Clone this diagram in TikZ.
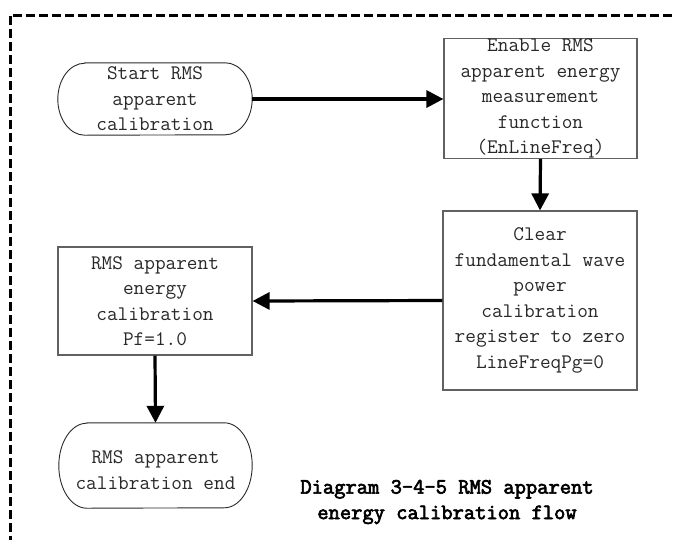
\documentclass[tikz,border=0pt]{standalone}
\usepackage{fontspec}
\setmonofont{Latin Modern Mono}
\newfontfamily\capfont[FakeBold=3]{Latin Modern Mono}
\usetikzlibrary{arrows.meta}
\definecolor{ink}{rgb}{0.16,0.16,0.16}
\definecolor{edge}{rgb}{0.38,0.38,0.38}
\tikzset{
  x=1pt, y=-1pt,
  every node/.style={font=\ttfamily\fontsize{20.7}{25.5}\selectfont, text=ink, align=center, inner sep=0pt},
  procbox/.style={draw=edge, line width=1.2pt},
  termshape/.style={draw=ink, line width=0.9pt},
  flow/.style={line width=3.2pt, -{Triangle[length=17pt, width=17pt]}},
  frame/.style={line width=3pt, dash pattern=on 9pt off 4pt}
}
\begin{document}
\begin{tikzpicture}
\useasboundingbox (0,0) rectangle (676,539);

% dashed frame (left and top sides)
\draw[frame] (10,545) -- (10,15) -- (690,15);

% process boxes
\node[procbox, minimum width=193pt, minimum height=119pt] (enable) at (540.5,98.5)
  {Enable RMS\\apparent energy\\measurement\\function\\(EnLineFreq)};
\node[procbox, minimum width=194pt, minimum height=179pt] (clear) at (540,300.5)
  {Clear\\fundamental wave\\power\\calibration\\register to zero\\LineFreqPg=0};
\node[procbox, minimum width=194pt, minimum height=108pt] (calib) at (155,301)
  {RMS apparent\\energy\\calibration\\Pf=1.0};

% terminals
\node[minimum width=194pt, minimum height=72pt] (start) at (155,99)
  {Start RMS\\apparent\\calibration};
\draw[termshape] ([xshift=27pt]start.north west) -- ([xshift=-27pt]start.north east)
  arc[start angle=90, end angle=-90, x radius=27pt, y radius=36pt]
  -- ([xshift=27pt]start.south west)
  arc[start angle=270, end angle=90, x radius=27pt, y radius=36pt] -- cycle;

\node[minimum width=193pt, minimum height=85pt] (finish) at (155.5,465.5) {};
\node at (155.5,470) {RMS apparent\\calibration end};
\draw[termshape] ([xshift=28pt]finish.north west) -- ([xshift=-28pt]finish.north east)
  arc[start angle=90, end angle=-90, x radius=28pt, y radius=42.5pt]
  -- ([xshift=28pt]finish.south west)
  arc[start angle=270, end angle=90, x radius=28pt, y radius=42.5pt] -- cycle;

% connectors
\draw[flow] (start.east) -- (enable.west |- start.east);
\draw[flow] (enable.south) -- (clear.north);
\draw[flow] (clear.west) -- (calib.east);
\draw[flow] (calib.south) -- (finish.north);

% caption
\node[font=\capfont\fontsize{21.9}{25.5}\selectfont, text=black] (caption) at (447,502)
  {Diagram 3-4-5 RMS apparent\\energy calibration flow};
\end{tikzpicture}
\end{document}
